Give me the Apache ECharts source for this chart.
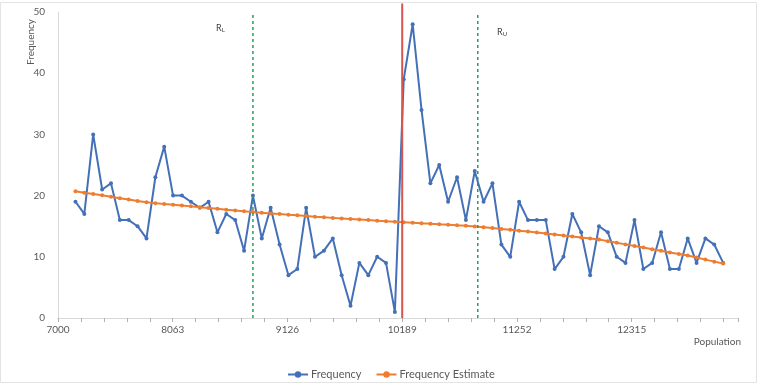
<!DOCTYPE html>
<html>
<head>
<meta charset="utf-8">
<script src="https://cdn.jsdelivr.net/npm/echarts@6/dist/echarts.min.js"></script>
<style>
html,body{margin:0;padding:0;background:#fff;}
#c{width:757px;height:384px;}
</style>
</head>
<body>
<div id="c"></div>
<script>
// ---- data ----
var population = [7162,7244,7326,7409,7491,7573,7655,7737,7820,7902,
  7984,8066,8148,8231,8313,8395,8477,8559,8642,8724,
  8806,8888,8970,9053,9135,9217,9299,9381,9464,9546,
  9628,9710,9792,9875,9957,10039,10121,10203,10286,10368,
  10450,10532,10614,10697,10779,10861,10943,11025,11108,11190,
  11272,11354,11436,11519,11601,11683,11765,11847,11930,12012,
  12094,12176,12258,12341,12423,12505,12587,12669,12752,12834,
  12916,12998,13080,13163];
var frequency = [19,17,30,21,22,16,16,15,13,23,
  28,20,20,19,18,19,14,17,16,11,
  20,13,18,12,7,8,18,10,11,13,
  7,2,9,7,10,9,1,39,48,34,
  22,25,19,23,16,24,19,22,12,10,
  19,16,16,16,8,10,17,14,7,15,
  14,10,9,16,8,9,14,8,8,13,
  9,13,12,9];
var frequencyEstimate = [20.70,20.48,20.26,20.04,19.81,19.58,19.35,19.12,18.90,18.77,
  18.63,18.50,18.37,18.24,18.10,17.97,17.84,17.70,17.57,17.44,
  17.30,17.19,17.09,16.98,16.87,16.77,16.66,16.55,16.45,16.36,
  16.27,16.18,16.09,16.00,15.91,15.82,15.73,15.65,15.57,15.48,
  15.40,15.31,15.23,15.14,15.06,14.97,14.84,14.70,14.55,14.41,
  14.26,14.12,13.97,13.80,13.64,13.47,13.31,13.14,12.98,12.82,
  12.56,12.29,12.03,11.77,11.51,11.25,10.98,10.72,10.46,10.20,
  9.87,9.54,9.21,8.90];
var xLabels = [7000,8063,9126,10189,11252,12315];
var yLabels = [0,10,20,30,40,50];
var rLower = 8806;
var rUpper = 10889;
var estimateLine = 10189;
var xMax = 13300;

// ---- build ----
var xInterval = xLabels[1] - xLabels[0];

function pairs(xs, ys) { return xs.map(function (x, i) { return [x, ys[i]]; }); }

var FONT = 'Lato, "Open Sans", sans-serif';
var chart = echarts.init(document.getElementById('c'), null, {renderer: 'canvas'});
chart.setOption({
  animation: false,
  backgroundColor: '#fff',
  textStyle: {fontFamily: FONT},
  grid: {left: 58, right: 19, top: 12, bottom: 66, containLabel: false},
  xAxis: {
    type: 'value', min: xLabels[0], max: xMax, interval: xInterval,
    axisLine: {show: true, lineStyle: {color: '#d9d9d9', width: 1}},
    axisTick: {show: true, length: 4, lineStyle: {color: '#b0b0b0', width: 1}},
    minorTick: {show: true, splitNumber: 5, length: 4, lineStyle: {color: '#b0b0b0', width: 1}},
    axisLabel: {color: '#595959', fontSize: 10, fontFamily: FONT, margin: 7, showMaxLabel: false,
      formatter: function (v) { return String(Math.round(v)); }},
    splitLine: {show: false},
    minorSplitLine: {show: false}
  },
  yAxis: {
    type: 'value', min: yLabels[0], max: yLabels[yLabels.length - 1], interval: 10,
    axisLine: {show: true, lineStyle: {color: '#d9d9d9', width: 1}},
    axisTick: {show: false},
    axisLabel: {color: '#595959', fontSize: 10, fontFamily: FONT, margin: 13},
    splitLine: {show: false}
  },
  legend: {
    data: ['Frequency', 'Frequency Estimate'],
    left: 282, top: 364, itemWidth: 20, itemHeight: 8, itemGap: 14,
    textStyle: {color: '#595959', fontSize: 11, fontFamily: FONT, padding: [0, 0, 0, -2]}
  },
  series: [
    {
      name: 'Frequency', type: 'line', data: pairs(population, frequency),
      symbol: 'circle', symbolSize: 4, showSymbol: true,
      lineStyle: {color: '#4470b8', width: 2},
      itemStyle: {color: '#4470b8'}, z: 3
    },
    {
      name: 'Frequency Estimate', type: 'line', data: pairs(population, frequencyEstimate),
      symbol: 'circle', symbolSize: 4, showSymbol: true,
      lineStyle: {color: '#ed7d31', width: 2},
      itemStyle: {color: '#ed7d31'}, z: 4
    },
    {
      name: 'RL', type: 'line', data: [[rLower, 0], [rLower, 50]], symbol: 'none',
      lineStyle: {color: '#23a060', width: 1.5, type: [3, 3]}, z: 5, silent: true
    },
    {
      name: 'RU', type: 'line', data: [[rUpper, 0], [rUpper, 50]], symbol: 'none',
      lineStyle: {color: '#23a060', width: 1.5, type: [3, 3]}, z: 5, silent: true
    },
    {
      name: 'Est', type: 'line', data: [[estimateLine, 0], [estimateLine, 51.4]], symbol: 'none', clip: false,
      lineStyle: {color: '#d9534f', width: 2}, z: 6, silent: true
    }
  ],
  graphic: [
    {type: 'rect', shape: {x: 0.5, y: 2.5, width: 756, height: 380}, style: {fill: 'none', stroke: '#e3e3e3', lineWidth: 1}, z: -1, silent: true},
    {type: 'text', x: 31, y: 42, rotation: Math.PI / 2,
      style: {text: 'Frequency', fill: '#595959', font: '10px ' + FONT, textAlign: 'center', textVerticalAlign: 'middle'}},
    {type: 'text', x: 741, y: 342,
      style: {text: 'Population', fill: '#595959', font: '10px ' + FONT, textAlign: 'right', textVerticalAlign: 'middle'}},
    {type: 'text', x: 216, y: 28,
      style: {text: '{a|R}{b|L}', fill: '#404040', textVerticalAlign: 'middle',
        rich: {a: {fontSize: 9, fontFamily: FONT, fill: '#404040'}, b: {fontSize: 6, fontFamily: FONT, fill: '#404040', verticalAlign: 'bottom', padding: [4, 0, 0, 0]}}}},
    {type: 'text', x: 497, y: 32,
      style: {text: '{a|R}{b|U}', fill: '#404040', textVerticalAlign: 'middle',
        rich: {a: {fontSize: 9, fontFamily: FONT, fill: '#404040'}, b: {fontSize: 6, fontFamily: FONT, fill: '#404040', verticalAlign: 'bottom', padding: [4, 0, 0, 0]}}}}
  ]
});
</script>
</body>
</html>
